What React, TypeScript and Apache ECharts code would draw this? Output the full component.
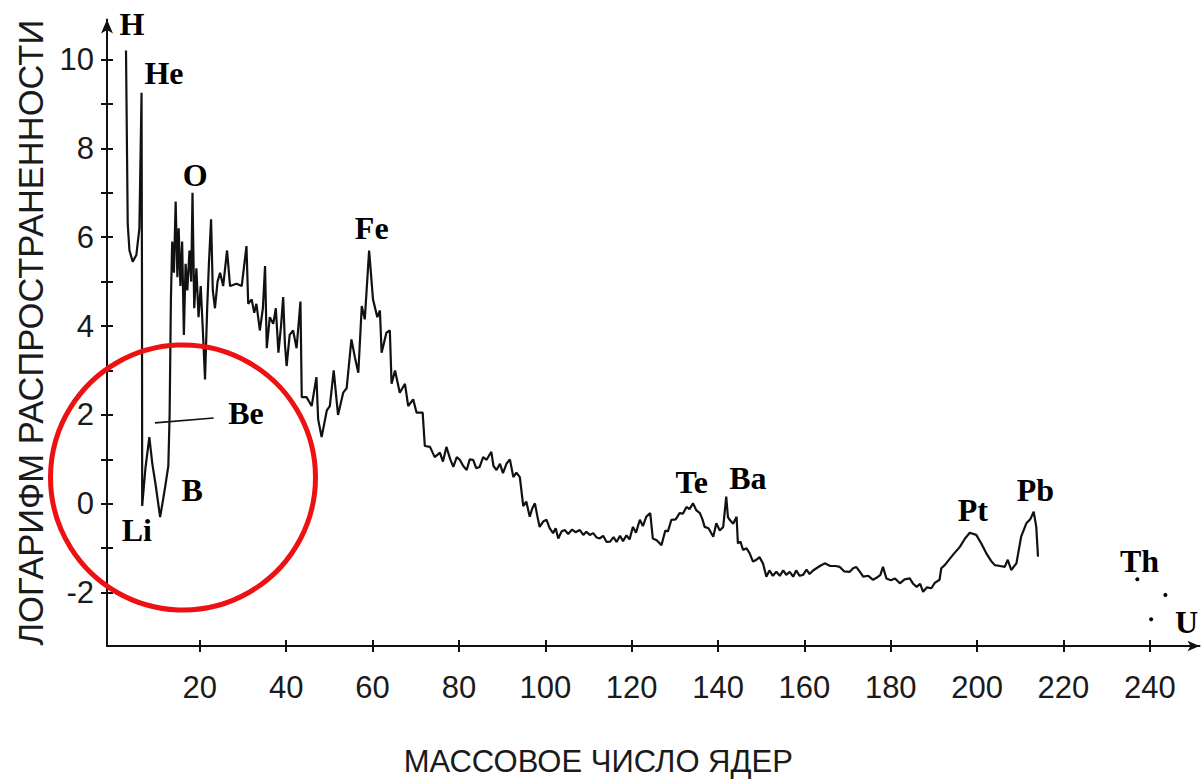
import React, { useEffect, useRef } from "react";
import * as echarts from "echarts";

// Axis ticks
const X_TICKS = [20, 40, 60, 80, 100, 120, 140, 160, 180, 200, 220, 240];
const Y_LABELS = [-2, 0, 2, 4, 6, 8, 10];
const Y_TICKS = [-2, -1, 0, 1, 2, 3, 4, 5, 6, 7, 8, 9, 10];

// Curve: [mass number, log abundance]
const lightNuclei: [number, number][] = [
  [2.9, 10.2], [3.3, 6.3], [3.7, 5.7], [4.45, 5.45], [5.3, 5.6], [6.0, 6.2], [6.5, 9.25],
  [6.6, 5.0], [6.65, -0.05], [7.4, 0.8], [8.3, 1.5], [9.0, 0.9], [9.8, 0.4], [10.8, -0.3],
  [11.5, 0.1], [12.0, 0.4], [12.7, 0.85], [13.0, 2.0], [13.3, 4.6], [13.6, 5.9], [14.0, 5.2],
  [14.4, 6.8], [14.8, 5.1], [15.1, 6.2], [15.5, 4.9], [15.9, 5.9], [16.3, 3.8], [16.7, 5.4],
  [17.1, 4.8], [17.6, 5.7], [18.0, 5.0], [18.3, 7.0], [18.7, 4.4], [19.2, 5.3], [19.7, 4.2],
  [20.2, 4.9], [20.7, 3.9], [21.2, 2.8], [21.7, 4.4], [22.1, 5.4], [22.6, 6.4], [23.0, 4.8],
  [23.5, 4.4], [24.1, 5.0], [24.7, 5.2], [25.4, 4.9], [26.3, 5.7], [27.0, 4.9], [28.5, 4.95],
  [29.7, 4.9], [30.8, 5.8], [31.2, 4.5], [32.0, 4.6], [32.6, 4.3], [33.1, 4.5], [33.9, 3.9],
  [34.6, 4.4], [35.1, 5.35], [35.5, 3.5], [36.2, 4.2], [37.0, 4.05], [37.6, 4.4], [38.2, 3.4],
  [38.8, 4.0], [39.3, 4.65], [39.7, 3.6], [40.1, 3.1], [40.8, 3.8], [41.6, 3.9], [42.4, 3.5],
  [43.3, 4.55], [43.6, 2.4],
];

const ironGroup: [number, number][] = [
  [44.7, 2.4], [45.9, 2.2], [47.0, 2.85], [47.4, 1.9], [48.2, 1.5], [49.4, 2.1], [50.1, 2.2],
  [51.0, 3.0], [52.0, 2.0], [53.2, 2.5], [54.0, 2.6], [55.1, 3.7], [55.9, 3.3], [56.7, 2.95],
  [57.5, 4.45], [58.2, 4.15], [59.2, 5.7], [60.1, 4.6], [61.1, 4.2], [61.7, 4.35], [62.1, 3.4],
  [63.2, 3.85], [64.0, 3.9], [64.4, 2.7], [65.2, 3.0], [66.3, 2.5], [67.5, 2.7], [68.25, 2.2],
  [69.4, 2.35], [70.2, 2.05], [71.6, 2.05], [72.1, 1.3], [73.3, 1.28], [74.4, 1.05], [75.6, 1.15],
  [76.3, 0.95], [77.1, 1.28], [78.0, 1.0], [78.7, 0.83], [79.5, 1.05], [80.2, 0.99], [81.0, 0.85],
  [81.8, 0.76], [82.5, 1.0], [83.3, 0.99], [84.0, 0.8], [84.8, 0.83], [85.6, 1.05], [86.4, 0.99],
  [87.5, 1.17], [88.0, 0.85], [88.7, 0.76], [89.5, 0.9], [90.2, 0.69], [91.0, 0.9], [91.8, 1.0],
  [92.6, 0.6], [93.3, 0.7], [94.1, 0.6], [94.9, -0.05],
];

const middleNuclei: [number, number][] = [
  [95.6, 0.05], [96.4, -0.29], [97.0, -0.1], [97.6, 0.01], [98.2, -0.3], [98.7, -0.52],
  [99.5, -0.4], [100.3, -0.36], [101.0, -0.55], [101.8, -0.66], [102.4, -0.55], [103.0, -0.78],
  [103.8, -0.62], [104.5, -0.59], [105.3, -0.68], [106.2, -0.58], [107.0, -0.64], [108.0, -0.59],
  [108.8, -0.7], [109.5, -0.63], [110.3, -0.7], [111.1, -0.66], [111.9, -0.76], [112.6, -0.78],
  [113.4, -0.72], [114.2, -0.86], [115.0, -0.85], [115.8, -0.75], [116.5, -0.86], [117.3, -0.72],
  [118.0, -0.84], [118.8, -0.71], [119.5, -0.8], [120.3, -0.52], [121.0, -0.65], [121.9, -0.36],
  [122.6, -0.5], [123.4, -0.29], [124.3, -0.21], [124.9, -0.78], [125.8, -0.82], [126.9, -0.93],
  [127.8, -0.6], [128.4, -0.62], [129.2, -0.36], [130.2, -0.35], [131.1, -0.21], [131.9, -0.22],
  [132.7, -0.07], [133.4, -0.12], [134.2, 0.01], [135.0, -0.15], [135.8, -0.21], [136.4, -0.35],
  [136.9, -0.52], [137.8, -0.55], [138.9, -0.74], [139.6, -0.44], [140.4, -0.6], [141.2, -0.52],
  [141.9, 0.16], [142.3, -0.3], [142.7, -0.36], [143.5, -0.45], [144.3, -0.29], [144.6, -0.89],
  [145.2, -0.85], [145.8, -1.04], [146.6, -1.0], [147.3, -1.11], [148.1, -1.3], [148.9, -1.26],
  [149.6, -1.2], [150.4, -1.34], [151.2, -1.64], [151.9, -1.5], [152.7, -1.62], [153.5, -1.53],
];

const heavyNuclei: [number, number][] = [
  [154.3, -1.62], [155.1, -1.5], [155.8, -1.6], [156.6, -1.53], [157.4, -1.64], [158.1, -1.5],
  [158.9, -1.62], [159.7, -1.6], [160.5, -1.48], [161.2, -1.58], [162.0, -1.5], [162.8, -1.45],
  [163.6, -1.4], [164.7, -1.34], [166.0, -1.4], [167.2, -1.4], [168.2, -1.42], [169.2, -1.52],
  [170.5, -1.53], [171.3, -1.45], [172.0, -1.42], [173.0, -1.55], [173.6, -1.64], [174.8, -1.62],
  [175.9, -1.71], [176.8, -1.66], [177.6, -1.6], [178.2, -1.42], [179.0, -1.68], [180.0, -1.72],
  [181.0, -1.68], [182.1, -1.79], [183.2, -1.7], [184.4, -1.68], [185.2, -1.8], [186.0, -1.87],
  [186.8, -1.8], [187.5, -1.98], [188.4, -1.88], [189.4, -1.9], [190.2, -1.78], [191.3, -1.71],
  [191.7, -1.45], [192.5, -1.38], [194.4, -1.15], [196.0, -0.97], [197.2, -0.78], [198.3, -0.65],
  [199.8, -0.7], [201.0, -0.9], [202.1, -1.11], [203.2, -1.28], [204.1, -1.38], [205.3, -1.4],
  [206.4, -1.42], [207.1, -1.26], [207.9, -1.49], [209.1, -1.34], [210.2, -0.74], [211.4, -0.44],
  [212.3, -0.35], [213.1, -0.18], [213.7, -0.52], [214.1, -1.19],
];

// Isolated points (Th, U)
const actinideDots: [number, number][] = [
  [237.1, -1.7], [243.6, -2.05], [240.3, -2.6],
];

// Leader line for Be
const beLeader: [number, number][] = [
  [9.6, 1.82], [23.2, 1.93],
];

// Element labels (data coordinates)
const elementNames = ["H", "He", "O", "Fe", "Be", "B", "Li", "Te", "Ba", "Pt", "Pb", "Th", "U"];
const elementMass = [4.3, 11.7, 18.9, 59.8, 30.7, 18.2, 5.4, 133.9, 146.9, 199.0, 213.5, 237.6, 248.5];
const elementLog = [10.8, 9.7, 7.4, 6.2, 2.05, 0.3, -0.6, 0.5, 0.58, -0.14, 0.31, -1.29, -2.66];

const X_NAME = "МАССОВОЕ ЧИСЛО ЯДЕР";
const Y_NAME = "ЛОГАРИФМ РАСПРОСТРАНЕННОСТИ";

export default function App() {
  const ref = useRef<HTMLDivElement>(null);

  useEffect(() => {
    if (!ref.current) return;
    const chart = echarts.init(ref.current, null, { renderer: "svg" });
    const sans = "'Liberation Sans', Arial, sans-serif";
    const serif = "'Liberation Serif', 'Times New Roman', serif";
    const ink = "#111111";
    const curve = [...lightNuclei, ...ironGroup, ...middleNuclei, ...heavyNuclei];

    const baseX = {
      type: "value",
      position: "bottom",
      min: -1.5,
      max: 251.5,
      splitLine: { show: false },
    };
    const baseY = {
      type: "value",
      position: "left",
      min: -3.2,
      max: 10.9,
      splitLine: { show: false },
    };

    chart.setOption({
      animation: false,
      backgroundColor: "#ffffff",
      grid: { left: 107, right: 2.5, top: 19.4, bottom: 134, containLabel: false, outerBoundsMode: "none" },
      xAxis: [
        {
          ...baseX,
          axisLine: {
            onZero: false,
            lineStyle: { color: ink, width: 2 },
            symbol: ["none", "arrow"],
            symbolSize: [8, 12],
          },
          axisTick: { customValues: X_TICKS, length: 6, lineStyle: { color: ink, width: 2 } },
          axisLabel: {
            customValues: X_TICKS,
            margin: 26,
            fontSize: 31,
            color: "#1a1a1a",
            fontFamily: sans,
          },
          name: X_NAME,
          nameLocation: "middle",
          nameGap: 100,
          nameTextStyle: { fontSize: 31, color: "#1a1a1a", fontFamily: sans, padding: [0, 110, 0, 0] },
        },
        {
          ...baseX,
          axisLine: { show: false, onZero: false },
          axisTick: { customValues: X_TICKS, inside: true, length: 6, lineStyle: { color: ink, width: 2 } },
          axisLabel: { show: false },
        },
      ],
      yAxis: [
        {
          ...baseY,
          axisLine: {
            onZero: false,
            lineStyle: { color: ink, width: 2 },
            symbol: ["none", "arrow"],
            symbolSize: [9, 14],
          },
          axisTick: { customValues: Y_TICKS, length: 6, lineStyle: { color: ink, width: 2 } },
          axisLabel: {
            customValues: Y_LABELS,
            margin: 13,
            fontSize: 31,
            color: "#1a1a1a",
            fontFamily: sans,
          },
          name: Y_NAME,
          nameLocation: "middle",
          nameRotate: 90,
          nameGap: 58,
          nameTextStyle: { fontSize: 34.5, color: "#1a1a1a", fontFamily: sans },
        },
        {
          ...baseY,
          axisLine: { show: false, onZero: false },
          axisTick: { customValues: Y_TICKS, inside: true, length: 6, lineStyle: { color: ink, width: 2 } },
          axisLabel: { show: false },
        },
      ],
      series: [
        {
          type: "line",
          name: "abundance",
          data: curve,
          showSymbol: false,
          symbol: "none",
          lineStyle: { color: ink, width: 2.2 },
          z: 3,
        },
        {
          type: "line",
          name: "Be leader",
          data: beLeader,
          showSymbol: false,
          symbol: "none",
          lineStyle: { color: ink, width: 1.6 },
          z: 3,
        },
        {
          type: "scatter",
          name: "Th/U",
          data: actinideDots,
          symbolSize: 4,
          itemStyle: { color: "#000", opacity: 1 },
          z: 3,
        },
        {
          type: "scatter",
          name: "labels",
          data: elementNames.map((n, i) => ({ name: n, value: [elementMass[i], elementLog[i]] })),
          symbolSize: 0,
          itemStyle: { color: "#000", opacity: 1 },
          label: {
            show: true,
            position: "inside",
            formatter: "{b}",
            fontFamily: serif,
            fontWeight: "bold",
            fontSize: 32,
            color: "#000",
            opacity: 1,
            textBorderWidth: 0,
            textBorderColor: "transparent",
          },
          z: 4,
        },
      ],
      graphic: [
        {
          type: "circle",
          z: 100,
          shape: { cx: 183, cy: 477.5, r: 132.5 },
          style: { fill: "none", stroke: "#ee1111", lineWidth: 5 },
          silent: true,
        },
      ],
    });

    return () => chart.dispose();
  }, []);

  return (
    <div
      ref={ref}
      style={{ position: "absolute", left: 0, top: 0, width: 1202, height: 780, background: "#fff" }}
    />
  );
}
